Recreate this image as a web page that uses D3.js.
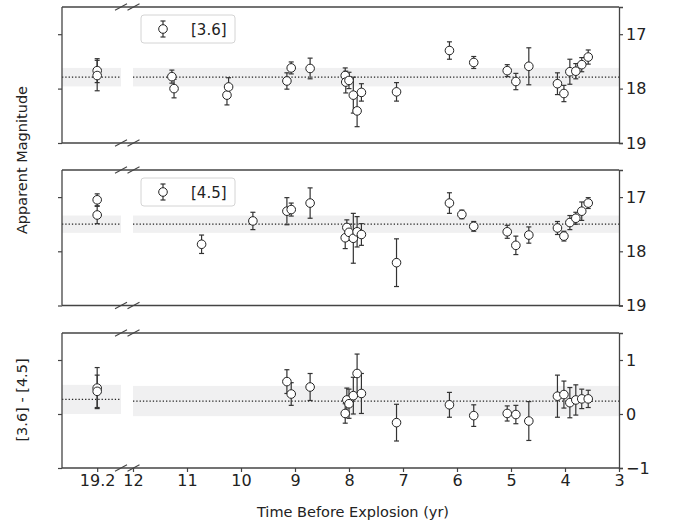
<!DOCTYPE html>
<html>
<head>
<meta charset="utf-8">
<script src="https://cdn.jsdelivr.net/npm/d3@7"></script>
<style>
  body { margin: 0; background: #fff; }
  text { font-family: "DejaVu Sans", sans-serif; fill: #222; }
</style>
</head>
<body>
<div id="chart"></div>
<script>
// [3.6] band
var t36 = [19.2, 19.2, 11.28, 11.24, 10.26, 10.23, 9.15, 9.07, 8.72, 8.07, 8.06, 8.0, 7.92, 7.85, 7.77, 7.12, 6.14, 5.69, 5.07, 4.91, 4.67, 4.14, 4.02, 3.91, 3.80, 3.69, 3.57];
var m36 = [17.67, 17.76, 17.78, 18.0, 18.12, 17.97, 17.86, 17.62, 17.63, 17.76, 17.88, 17.85, 18.12, 18.41, 18.07, 18.06, 17.30, 17.52, 17.67, 17.87, 17.59, 17.91, 18.09, 17.69, 17.68, 17.56, 17.42];
var e36 = [0.22, 0.28, 0.12, 0.17, 0.18, 0.17, 0.15, 0.11, 0.19, 0.14, 0.2, 0.15, 0.33, 0.29, 0.16, 0.17, 0.16, 0.11, 0.11, 0.15, 0.34, 0.2, 0.15, 0.23, 0.14, 0.13, 0.13];

// [4.5] band
var t45 = [19.2, 19.2, 10.73, 9.78, 9.15, 9.07, 8.72, 8.07, 8.04, 8.0, 7.92, 7.85, 7.77, 7.12, 6.14, 5.91, 5.69, 5.07, 4.91, 4.67, 4.14, 4.02, 3.91, 3.80, 3.69, 3.57];
var m45 = [17.05, 17.33, 17.87, 17.44, 17.26, 17.23, 17.11, 17.75, 17.56, 17.65, 17.76, 17.64, 17.69, 18.21, 17.11, 17.32, 17.54, 17.64, 17.89, 17.70, 17.57, 17.72, 17.47, 17.39, 17.26, 17.11];
var e45 = [0.11, 0.16, 0.17, 0.16, 0.25, 0.12, 0.28, 0.2, 0.14, 0.15, 0.46, 0.28, 0.2, 0.44, 0.19, 0.08, 0.09, 0.12, 0.17, 0.15, 0.12, 0.09, 0.13, 0.11, 0.17, 0.10];

// colour [3.6] - [4.5]
var tc = [19.2, 19.2, 9.15, 9.07, 8.72, 8.07, 8.04, 8.0, 7.92, 7.85, 7.77, 7.12, 6.14, 5.69, 5.07, 4.91, 4.67, 4.14, 4.02, 3.91, 3.80, 3.69, 3.57];
var mc = [0.48, 0.42, 0.60, 0.37, 0.50, 0.01, 0.26, 0.19, 0.34, 0.75, 0.38, -0.16, 0.17, -0.03, 0.01, -0.01, -0.13, 0.33, 0.36, 0.21, 0.26, 0.28, 0.28];
var ec = [0.38, 0.3, 0.22, 0.21, 0.25, 0.18, 0.22, 0.27, 0.34, 0.36, 0.37, 0.34, 0.23, 0.2, 0.14, 0.17, 0.36, 0.39, 0.25, 0.28, 0.28, 0.18, 0.16];

// mean level and band half-width, [left segment, right segment]
var mean36 = [17.79, 17.79], std36 = [0.17, 0.17];
var mean45 = [17.5, 17.5], std45 = [0.16, 0.16];
var meanC = [0.27, 0.24], stdC = [0.27, 0.28];

var legendLabels = ["[3.6]", "[4.5]"];
var xTicksLeft = [19.2];
var xTicksRight = [12, 11, 10, 9, 8, 7, 6, 5, 4, 3];
var magTicks = [17, 18, 19];
var colTicks = [-1, 0, 1];

var W = 673, H = 527;
var svg = d3.select("#chart").append("svg").attr("width", W).attr("height", H);

var xL = d3.scaleLinear().domain([19.85, 18.76]).range([62, 121]);
var xR = d3.scaleLinear().domain([12, 3]).range([133, 619]);
function xpos(t) { return t > 15 ? xL(t) : xR(t); }

var panels = [
  { top: 7, bottom: 143, dom: [16.5, 19], t: t36, m: m36, e: e36, mean: mean36, std: std36, ticks: magTicks, legend: legendLabels[0] },
  { top: 170, bottom: 305.5, dom: [16.5, 19], t: t45, m: m45, e: e45, mean: mean45, std: std45, ticks: magTicks, legend: legendLabels[1] },
  { top: 333, bottom: 468, dom: [1.5, -1], t: tc, m: mc, e: ec, mean: meanC, std: stdC, ticks: colTicks, legend: null }
];

var spine = "#444";

panels.forEach(function(p, pi) {
  var y = d3.scaleLinear().domain(p.dom).range([p.top, p.bottom]);
  var g = svg.append("g");

  // grey band + dotted mean line for each segment
  [[xL, 0], [xR, 1]].forEach(function(s) {
    var sc = s[0], k = s[1];
    var r = sc.range();
    var y1 = y(p.mean[k] - p.std[k]), y2 = y(p.mean[k] + p.std[k]);
    g.append("rect")
      .attr("x", r[0]).attr("width", r[1] - r[0])
      .attr("y", Math.min(y1, y2)).attr("height", Math.abs(y2 - y1))
      .attr("fill", "#f0f0f1");
    g.append("line")
      .attr("x1", r[0]).attr("x2", r[1])
      .attr("y1", y(p.mean[k])).attr("y2", y(p.mean[k]))
      .attr("stroke", "#222").attr("stroke-width", 1.2)
      .attr("stroke-dasharray", "1.3,2");
  });

  // frame
  g.append("line").attr("x1", 62).attr("x2", 619).attr("y1", p.top).attr("y2", p.top)
    .attr("stroke", spine).attr("stroke-width", 1.3);
  g.append("line").attr("x1", 62).attr("x2", 619).attr("y1", p.bottom).attr("y2", p.bottom)
    .attr("stroke", spine).attr("stroke-width", 1.3);
  g.append("line").attr("x1", 62).attr("x2", 62).attr("y1", p.top).attr("y2", p.bottom)
    .attr("stroke", spine).attr("stroke-width", 1.3);

  // left ticks, no labels
  var yl = g.append("g").attr("transform", "translate(62,0)")
    .call(d3.axisLeft(y).tickValues(p.ticks).tickSize(4).tickFormat(""));
  yl.select(".domain").remove();
  yl.selectAll("line").attr("stroke", spine).attr("stroke-width", 1.2);

  // right axis with labels
  var yr = g.append("g").attr("transform", "translate(619,0)")
    .call(d3.axisRight(y).tickValues(p.ticks).tickSize(4).tickPadding(3)
      .tickFormat(function(d) { return d < 0 ? "\u2212" + Math.abs(d) : d; }));
  yr.select(".domain").attr("stroke", spine).attr("stroke-width", 1.3);
  yr.selectAll("line").attr("stroke", spine).attr("stroke-width", 1.2);
  yr.selectAll("text").style("font-size", "16px").attr("fill", "#222");

  // break marks
  [121, 133.5].forEach(function(bx) {
    [p.top, p.bottom].forEach(function(by) {
      g.append("line").attr("x1", bx - 6).attr("x2", bx + 6)
        .attr("y1", by + 3.2).attr("y2", by - 3.2)
        .attr("stroke", spine).attr("stroke-width", 1.1);
    });
  });

  // error bars and markers
  var pts = p.t.map(function(t, i) { return { t: t, v: p.m[i], e: p.e[i] }; });
  var eb = g.append("g");
  pts.forEach(function(d) {
    var cx = xpos(d.t);
    eb.append("line").attr("x1", cx).attr("x2", cx)
      .attr("y1", y(d.v - d.e)).attr("y2", y(d.v + d.e))
      .attr("stroke", "#333").attr("stroke-width", 1.2);
    [d.v - d.e, d.v + d.e].forEach(function(v) {
      eb.append("line").attr("x1", cx - 2.5).attr("x2", cx + 2.5)
        .attr("y1", y(v)).attr("y2", y(v))
        .attr("stroke", "#333").attr("stroke-width", 1.2);
    });
  });
  g.append("g").selectAll("circle").data(pts).enter().append("circle")
    .attr("cx", function(d) { return xpos(d.t); })
    .attr("cy", function(d) { return y(d.v); })
    .attr("r", 4.3)
    .attr("fill", "#fff").attr("stroke", "#222").attr("stroke-width", 1);

  // legend
  if (p.legend) {
    var lg = g.append("g").attr("transform", "translate(141," + (p.top + 8) + ")");
    lg.append("rect").attr("width", 94).attr("height", 28).attr("rx", 3)
      .attr("fill", "#fff").attr("stroke", "#d4d4d4").attr("stroke-width", 1);
    lg.append("line").attr("x1", 22).attr("x2", 22).attr("y1", 6).attr("y2", 22)
      .attr("stroke", "#333").attr("stroke-width", 1.2);
    [6, 22].forEach(function(yy) {
      lg.append("line").attr("x1", 19.5).attr("x2", 24.5).attr("y1", yy).attr("y2", yy)
        .attr("stroke", "#333").attr("stroke-width", 1.2);
    });
    lg.append("circle").attr("cx", 22).attr("cy", 14).attr("r", 4.3)
      .attr("fill", "#fff").attr("stroke", "#222");
    lg.append("text").attr("x", 50).attr("y", 19.5).style("font-size", "15px").text(p.legend);
  }

  // x axis on bottom panel only
  if (pi === 2) {
    [[xL, xTicksLeft], [xR, xTicksRight]].forEach(function(s) {
      var ax = g.append("g").attr("transform", "translate(0," + p.bottom + ")")
        .call(d3.axisBottom(s[0]).tickValues(s[1]).tickSize(4).tickPadding(3)
          .tickFormat(function(d) { return d; }));
      ax.select(".domain").remove();
      ax.selectAll("line").attr("stroke", spine).attr("stroke-width", 1.2);
      ax.selectAll("text").style("font-size", "16px").attr("fill", "#222");
    });
  }
});

// axis labels
svg.append("text").attr("transform", "translate(27,160) rotate(-90)")
  .attr("text-anchor", "middle").style("font-size", "14.5px").text("Apparent Magnitude");
svg.append("text").attr("transform", "translate(27,400) rotate(-90)")
  .attr("text-anchor", "middle").style("font-size", "14.5px").text("[3.6] - [4.5]");
svg.append("text").attr("x", 353).attr("y", 517)
  .attr("text-anchor", "middle").style("font-size", "14.5px").text("Time Before Explosion (yr)");
</script>
</body>
</html>
